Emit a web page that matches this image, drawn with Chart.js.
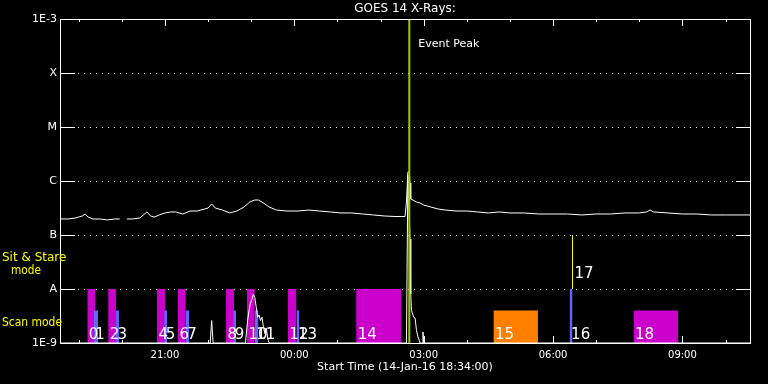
<!DOCTYPE html>
<html>
<head>
<meta charset="utf-8">
<title>GOES 14 X-Rays</title>
<script src="https://cdn.jsdelivr.net/npm/chart.js@4.4.1/dist/chart.umd.min.js"></script>
<style>
  html, body { margin: 0; padding: 0; background: #000; }
  #wrap { width: 768px; height: 384px; }
</style>
</head>
<body>
<div id="wrap"><canvas id="goes-chart"></canvas></div>
<script>
// Time window of the plot
const startTime = "18:34";
const endTime = "10:34";
const eventPeakTime = "02:40";

// Flux levels on the left axis
const yTickValues = [1e-9, 1e-8, 1e-7, 1e-6, 1e-5, 1e-4, 1e-3];
const yTickLabels = ["1E-9", "A", "B", "C", "M", "X", "1E-3"];

// GOES long channel (1-8 A)
const longTimes = [
  "18:35", "18:45", "18:55", "19:00", "19:05", "19:09", "19:13", "19:20", "19:30", "19:40",
  "19:50", "19:57", "20:00", "20:07", "20:15", "20:25", "20:35", "20:40", "20:45", "20:52",
  "21:00", "21:08", "21:15", "21:25", "21:35", "21:45", "21:55", "22:00", "22:05", "22:10",
  "22:20", "22:30", "22:40", "22:50", "22:58", "23:05", "23:10", "23:15", "23:25", "23:35",
  "23:50", "00:05", "00:20", "00:35", "00:50", "01:05", "01:20", "01:35", "01:50", "02:05",
  "02:20", "02:34", "02:36", "02:38", "02:40", "02:41", "02:42", "02:45", "02:50", "02:55",
  "03:00", "03:10", "03:20", "03:30", "03:45", "04:00", "04:15", "04:30", "04:45", "05:00",
  "05:20", "05:40", "06:00", "06:20", "06:40", "07:00", "07:20", "07:40", "08:00", "08:10",
  "08:15", "08:20", "08:40", "09:00", "09:20", "09:40", "10:00", "10:20", "10:34",
];
const longFlux = [
  1.98e-7, 1.98e-7, 2.06e-7, 2.15e-7, 2.25e-7, 2.45e-7, 2.15e-7, 1.98e-7, 1.98e-7, 1.9e-7,
  1.98e-7, 1.98e-7, null, 1.98e-7, 1.98e-7, 2.06e-7, 2.67e-7, 2.25e-7, 2.15e-7, 2.35e-7,
  2.56e-7, 2.67e-7, 2.67e-7, 2.45e-7, 2.78e-7, 2.78e-7, 3.03e-7, 3.16e-7, 3.75e-7, 3.16e-7,
  2.9e-7, 2.56e-7, 2.78e-7, 3.3e-7, 4.08e-7, 4.45e-7, 4.45e-7, 4.08e-7, 3.3e-7, 2.9e-7,
  2.78e-7, 2.78e-7, 2.9e-7, 2.78e-7, 2.67e-7, 2.56e-7, 2.56e-7, 2.45e-7, 2.35e-7, 2.25e-7,
  2.2e-7, 2.2e-7, 4.08e-7, 1.47e-6, 1.47e-6, 9.2e-7, 4.64e-7, 4.45e-7, 4.08e-7, 3.91e-7,
  3.59e-7, 3.3e-7, 3.03e-7, 2.9e-7, 2.78e-7, 2.78e-7, 2.67e-7, 2.56e-7, 2.67e-7, 2.56e-7,
  2.56e-7, 2.45e-7, 2.45e-7, 2.45e-7, 2.35e-7, 2.45e-7, 2.45e-7, 2.56e-7, 2.56e-7, 2.67e-7,
  2.9e-7, 2.67e-7, 2.56e-7, 2.45e-7, 2.45e-7, 2.35e-7, 2.35e-7, 2.35e-7, 2.35e-7,
];

// GOES short channel (0.5-4 A), mostly below the axis floor
const shortTimes = [
  "18:35", "22:03", "22:05", "22:07", "22:52", "22:55", "22:57", "22:59", "23:01", "23:03",
  "23:05", "23:07", "23:09", "23:11", "23:13", "23:15", "23:17", "23:19", "23:21", "23:23",
  "23:25", "02:36", "02:38", "02:41", "02:42", "02:43", "02:46", "02:48", "02:50", "02:52",
  "02:55", "02:58", "02:59", "03:00", "10:34",
];
const shortFlux = [
  1e-9, 1e-9, 2.6e-9, 1e-9, 1e-9, 2.6e-9, 4e-9, 5.5e-9, 6.5e-9, 8e-9,
  7e-9, 4.6e-9, 3e-9, 3.3e-9, 2.6e-9, 3e-9, 2e-9, 1.5e-9, 1.9e-9, 1.2e-9,
  1e-9, 1e-9, 1.3e-6, 8.4e-8, 8e-9, 4e-9, 3e-9, 2.9e-9, 1.7e-9, 1.3e-9,
  1e-9, 1e-9, 1.6e-9, 1e-9, 1e-9,
];

// Observation boxes along the bottom
const boxLabels = ["0", "1", "2", "3", "4", "5", "6", "7", "8", "9", "10", "11", "12", "13", "14", "15", "16", "18"];
const boxStart = ["19:12", "19:21", "19:41", "19:52", "20:49", "20:59", "21:18", "21:29", "22:25", "22:35",
                  "22:54", "23:05", "23:51", "00:03", "01:26", "04:37", "06:23", "07:52"];
const boxEnd = ["19:23", "19:27", "19:52", "19:56", "21:00", "21:03", "21:29", "21:34", "22:36", "22:39",
                "23:05", "23:10", "00:03", "00:07", "02:29", "05:39", "06:27", "08:54"];
const boxTop = [1e-8, 4e-9, 1e-8, 4e-9, 1e-8, 4e-9, 1e-8, 4e-9, 1e-8, 4e-9,
                1e-8, 4e-9, 1e-8, 4e-9, 1e-8, 4e-9, 1e-8, 4e-9];
const boxKind = ["raster", "stare", "raster", "stare", "raster", "stare", "raster", "stare", "raster", "stare",
                 "raster", "stare", "raster", "stare", "raster", "other", "stare", "raster"];

// Sit & stare marker
const stareLabel = "17";
const stareTime = "06:27";
const stareLow = 1e-8;
const stareHigh = 1e-7;

const kindColors = { raster: "#cc00cc", stare: "#6464ff", other: "#ff8000" };
const FONT = "'DejaVu Sans', sans-serif";

// hours after the start time, wrapping past midnight
function toHours(hhmm) {
  const [h, m] = hhmm.split(":").map(Number);
  const [sh, sm] = startTime.split(":").map(Number);
  let mins = h * 60 + m - (sh * 60 + sm);
  if (mins < 0) mins += 1440;
  return mins / 60;
}

function clockHour(value) {
  const [sh, sm] = startTime.split(":").map(Number);
  const mins = Math.round(sh * 60 + sm + value * 60) % 1440;
  return Math.floor(mins / 60);
}

const boxDatasets = boxLabels.map((lab, i) => ({
  label: "box " + lab,
  data: [
    { x: toHours(boxStart[i]), y: boxTop[i] },
    { x: toHours(boxEnd[i]), y: boxTop[i] },
  ],
  borderWidth: 0,
  borderColor: "rgba(0,0,0,0)",
  backgroundColor: kindColors[boxKind[i]],
  fill: "start",
  pointRadius: 0,
  order: boxKind[i] === "stare" ? 4 : 5,
}));

const decorPlugin = {
  id: "goesDecor",
  beforeDatasetsDraw(chart) {
    const { ctx, chartArea: a, scales: { x, y } } = chart;
    ctx.save();
    ctx.strokeStyle = "#fff";
    ctx.lineWidth = 1;
    // dotted level lines with solid stubs at both ends
    yTickValues.slice(1, -1).forEach((v) => {
      const py = Math.round(y.getPixelForValue(v)) + 0.5;
      ctx.setLineDash([1, 5]);
      ctx.beginPath();
      ctx.moveTo(a.left + 18, py);
      ctx.lineTo(a.right - 17, py);
      ctx.stroke();
      ctx.setLineDash([]);
      ctx.beginPath();
      ctx.moveTo(a.left, py);
      ctx.lineTo(a.left + 15, py);
      ctx.moveTo(a.right - 14, py);
      ctx.lineTo(a.right, py);
      ctx.stroke();
    });
    // hourly ticks, longer every 3 hours
    x.ticks.forEach((t) => {
      const px = Math.round(x.getPixelForValue(t.value)) + 0.5;
      const len = clockHour(t.value) % 3 === 0 ? 7 : 3;
      ctx.beginPath();
      ctx.moveTo(px, a.bottom);
      ctx.lineTo(px, a.bottom - len);
      ctx.moveTo(px, a.top);
      ctx.lineTo(px, a.top + len);
      ctx.stroke();
    });
    ctx.restore();
  },
  afterDatasetsDraw(chart) {
    const { ctx, chartArea: a, scales: { x, y } } = chart;
    ctx.save();
    ctx.fillStyle = "#fff";
    ctx.textAlign = "left";
    ctx.textBaseline = "alphabetic";
    ctx.font = "15px " + FONT;
    boxLabels.forEach((lab, i) => {
      ctx.fillText(lab, x.getPixelForValue(toHours(boxStart[i])) + 1.5, a.bottom - 4);
    });
    ctx.fillText(stareLabel, x.getPixelForValue(toHours(stareTime)) + 2, y.getPixelForValue(stareLow) - 11);

    ctx.font = "11px " + FONT;
    ctx.fillText("Event Peak", x.getPixelForValue(toHours(eventPeakTime)) + 9, a.top + 28);

    // frame
    ctx.strokeStyle = "#fff";
    ctx.lineWidth = 1;
    ctx.strokeRect(a.left + 0.5, a.top + 0.5, a.right - a.left, a.bottom - a.top);

    // title
    ctx.font = "12px " + FONT;
    ctx.textAlign = "center";
    ctx.textBaseline = "middle";
    ctx.fillText("GOES 14 X-Rays:", (a.left + a.right) / 2, 9);
    ctx.restore();
  },
  afterDraw(chart) {
    const { ctx, chartArea: a, scales: { y } } = chart;
    ctx.save();
    ctx.fillStyle = "#ffff00";
    ctx.font = "12px " + FONT;
    ctx.textBaseline = "middle";
    ctx.textAlign = "left";
    const pyA = y.getPixelForValue(1e-8);
    ctx.fillText("Sit & Stare", 2, pyA - 31);
    ctx.textAlign = "center";
    ctx.fillText("mode", 26, pyA - 18, 30);
    ctx.textAlign = "left";
    ctx.fillText("Scan mode", 2, a.bottom - 20, 60);
    ctx.restore();
  },
};

Chart.defaults.font.family = FONT;
Chart.defaults.color = "#fff";

new Chart(document.getElementById("goes-chart"), {
  type: "line",
  data: {
    datasets: [
      {
        label: "Event Peak",
        data: [
          { x: toHours(eventPeakTime), y: 1e-9 },
          { x: toHours(eventPeakTime), y: 1e-3 },
        ],
        borderColor: "#99cc00",
        borderWidth: 2,
        pointRadius: 0,
        order: 1,
      },
      {
        label: "Sit & Stare " + stareLabel,
        data: [
          { x: toHours(stareTime), y: stareLow },
          { x: toHours(stareTime), y: stareHigh },
        ],
        borderColor: "#ffff00",
        borderWidth: 1,
        pointRadius: 0,
        order: 1,
      },
      {
        label: "1-8 A",
        data: longTimes.map((t, i) => ({ x: toHours(t), y: longFlux[i] })),
        borderColor: "#fff",
        borderWidth: 1,
        pointRadius: 0,
        order: 2,
      },
      {
        label: "0.5-4 A",
        data: shortTimes.map((t, i) => ({ x: toHours(t), y: shortFlux[i] })),
        borderColor: "#fff",
        borderWidth: 1,
        pointRadius: 0,
        order: 2,
      },
      ...boxDatasets,
    ],
  },
  options: {
    animation: false,
    responsive: true,
    maintainAspectRatio: false,
    events: [],
    layout: { padding: { top: 19, right: 18 } },
    scales: {
      x: {
        type: "linear",
        min: 0,
        max: toHours(endTime),
        grid: { display: false, drawTicks: false },
        border: { display: false },
        afterBuildTicks: (scale) => {
          const ticks = [];
          for (let t = toHours("19:00"); t <= scale.max; t += 1) ticks.push({ value: t });
          scale.ticks = ticks;
        },
        afterFit: (scale) => {
          scale.height = 41;
        },
        ticks: {
          autoSkip: false,
          maxRotation: 0,
          padding: 6,
          color: "#fff",
          font: { size: 10 },
          callback: (value) => {
            const h = clockHour(value);
            return h % 3 === 0 ? String(h).padStart(2, "0") + ":00" : "";
          },
        },
        title: {
          display: true,
          text: "Start Time (14-Jan-16 18:34:00)",
          color: "#fff",
          font: { size: 11 },
          padding: { top: 0, bottom: 10 },
        },
      },
      y: {
        type: "logarithmic",
        min: 1e-9,
        max: 1e-3,
        grid: { display: false, drawTicks: false },
        border: { display: false },
        afterBuildTicks: (scale) => {
          scale.ticks = yTickValues.map((v) => ({ value: v }));
        },
        afterFit: (scale) => {
          scale.width = 60;
        },
        ticks: {
          autoSkip: false,
          padding: 3,
          color: "#fff",
          font: { size: 11 },
          callback: (value, index) => yTickLabels[index],
        },
      },
    },
    plugins: {
      legend: { display: false },
      title: { display: false },
      tooltip: { enabled: false },
    },
  },
  plugins: [decorPlugin],
});
</script>
</body>
</html>
